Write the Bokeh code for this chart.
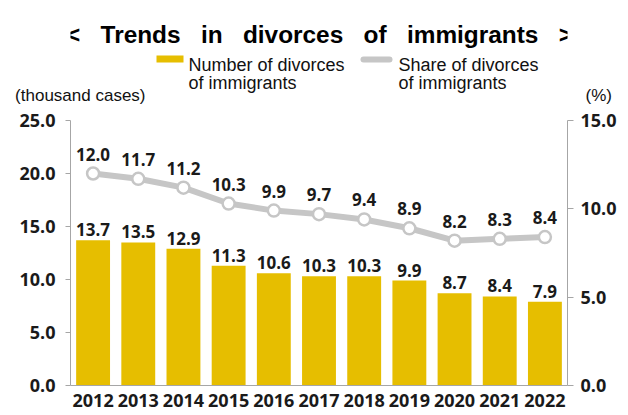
from bokeh.plotting import figure
from bokeh.layouts import column
from bokeh.models import (ColumnDataSource, Range1d, LinearAxis, FixedTicker,
                          NumeralTickFormatter, LabelSet)
from bokeh.embed import file_html
from bokeh.resources import INLINE
from bokeh.core.properties import value

years = ["2012", "2013", "2014", "2015", "2016", "2017", "2018", "2019", "2020", "2021", "2022"]
divorces = [13.7, 13.5, 12.9, 11.3, 10.6, 10.3, 10.3, 9.9, 8.7, 8.4, 7.9]
share = [12.0, 11.7, 11.2, 10.3, 9.9, 9.7, 9.4, 8.9, 8.2, 8.3, 8.4]
left_ticks = [0, 5, 10, 15, 20, 25]
right_ticks = [0, 5, 10, 15]

title_text = "<   Trends   in   divorces   of   immigrants   >".replace(" ", "\u00a0")
legend_bar = ["Number of divorces", "of immigrants"]
legend_line = ["Share of divorces", "of immigrants"]
unit_left = "(thousand cases)"
unit_right = "(%)"

YELLOW = "#E6BE00"
GREY = "#C6C6C6"
AXIS = "#A6A6A6"
TXT = "#1a1a1a"
NUMFONT = "Open Sans"
LABFONT = "Liberation Sans"

FL, FW, RB, TOPB = 70, 497, 51, 13   # shared frame left / width / right border / top border
HH = 107                              # header height (pixels)

# ---------------- header: title, legend, units ----------------
h = figure(x_range=Range1d(FL, FL + FW), y_range=Range1d(0, HH - TOPB),
           frame_width=FW, frame_height=HH - TOPB,
           output_backend="svg", toolbar_location=None,
           min_border_left=FL, min_border_right=RB, min_border_top=TOPB,
           min_border_bottom=0, x_axis_location=None, y_axis_location="left",
           outline_line_color=None)
h.xgrid.grid_line_color = None
h.ygrid.grid_line_color = None

def hy(img_y):
    return HH - img_y

h.text(x=[319], y=[hy(34)], text=[title_text], text_align="center",
       text_baseline="alphabetic", text_font=value(LABFONT),
       text_font_size="24.4px", text_font_style="bold", text_color="#000000")
h.quad(left=[156], right=[183], bottom=[hy(62)], top=[hy(55)], fill_color=YELLOW,
       line_color=None)
h.line(x=[363, 389], y=[hy(59), hy(59)], line_color=GREY, line_width=6, line_cap="round")
h.text(x=[188, 188], y=[hy(64), hy(82)], text=legend_bar, text_align="left",
       text_baseline="alphabetic", text_font=value(LABFONT),
       text_font_size="18px", text_color="#111111")
h.text(x=[398, 398], y=[hy(64), hy(82)], text=legend_line, text_align="left",
       text_baseline="alphabetic", text_font=value(LABFONT),
       text_font_size="18px", text_color="#111111")

unit_y = hy(95)
hl = h.yaxis[0]
hl.ticker = FixedTicker(ticks=[unit_y])
hl.major_label_overrides = {unit_y: unit_left}
hl.axis_line_color = None
hl.major_tick_line_color = None
hl.minor_tick_line_color = None
hl.major_tick_out = 0
hl.major_tick_in = 0
hl.major_label_standoff = -75
hl.major_label_text_font = LABFONT
hl.major_label_text_font_size = "17px"
hl.major_label_text_color = "#111111"

hr = LinearAxis(ticker=FixedTicker(ticks=[unit_y]))
hr.major_label_overrides = {unit_y: unit_right}
hr.axis_line_color = None
hr.major_tick_line_color = None
hr.minor_tick_line_color = None
hr.major_tick_out = 0
hr.major_tick_in = 0
hr.major_label_standoff = 18
hr.major_label_text_font = LABFONT
hr.major_label_text_font_size = "17px"
hr.major_label_text_color = "#111111"
h.add_layout(hr, "right")

# ---------------- main chart ----------------
src = ColumnDataSource(dict(
    year=years, divorces=divorces, share=share,
    dlab=[f"{v:.1f}" for v in divorces],
    slab=[f"{v:.1f}" for v in share],
))

p = figure(x_range=years, y_range=Range1d(0, 25), frame_width=FW, frame_height=265,
           output_backend="svg", toolbar_location=None,
           min_border_left=FL, min_border_right=RB, min_border_top=TOPB,
           min_border_bottom=30, outline_line_color=None)
p.x_range.range_padding = 0
p.extra_y_ranges = {"pct": Range1d(0, 15)}
p.xgrid.grid_line_color = None
p.ygrid.grid_line_color = None

p.vbar(x="year", top="divorces", width=0.75, source=src, color=YELLOW, line_color=None)
p.line(x="year", y="share", source=src, y_range_name="pct", line_color=GREY,
       line_width=6, line_cap="round", line_join="round")
p.scatter(x="year", y="share", source=src, y_range_name="pct", size=12,
          fill_color="white", line_color=GREY, line_width=2.5)

p.add_layout(LabelSet(x="year", y="divorces", text="dlab", source=src,
                      text_align="center", text_baseline="bottom", y_offset=4,
                      text_font=value(NUMFONT), text_font_size="17px",
                      text_font_style="bold", text_color=TXT))
p.add_layout(LabelSet(x="year", y="share", text="slab", source=src, y_range_name="pct",
                      text_align="center", text_baseline="bottom", y_offset=13,
                      text_font=value(NUMFONT), text_font_size="17px",
                      text_font_style="bold", text_color=TXT))

ax = p.xaxis[0]
ax.axis_line_color = AXIS
ax.major_tick_line_color = None
ax.minor_tick_line_color = None
ax.major_label_standoff = 2
ax.major_label_text_font = NUMFONT
ax.major_label_text_font_size = "18px"
ax.major_label_text_font_style = "bold"
ax.major_label_text_color = TXT

ay = p.yaxis[0]
ay.ticker = FixedTicker(ticks=left_ticks)
ay.formatter = NumeralTickFormatter(format="0.0")
ay.axis_line_color = AXIS
ay.major_tick_line_color = AXIS
ay.major_tick_out = 5
ay.major_tick_in = 0
ay.minor_tick_line_color = None
ay.major_label_standoff = 10
ay.major_label_text_font = NUMFONT
ay.major_label_text_font_size = "18px"
ay.major_label_text_font_style = "bold"
ay.major_label_text_color = TXT

ry = LinearAxis(y_range_name="pct", ticker=FixedTicker(ticks=right_ticks),
                formatter=NumeralTickFormatter(format="0.0"))
ry.axis_line_color = AXIS
ry.major_tick_line_color = AXIS
ry.major_tick_out = 6
ry.major_tick_in = 0
ry.minor_tick_line_color = None
ry.major_label_standoff = 7
ry.major_label_text_font = NUMFONT
ry.major_label_text_font_size = "18px"
ry.major_label_text_font_style = "bold"
ry.major_label_text_color = TXT
p.add_layout(ry, "right")

layout = column(h, p, spacing=0)
open("out.html", "w").write(file_html(layout, INLINE))
